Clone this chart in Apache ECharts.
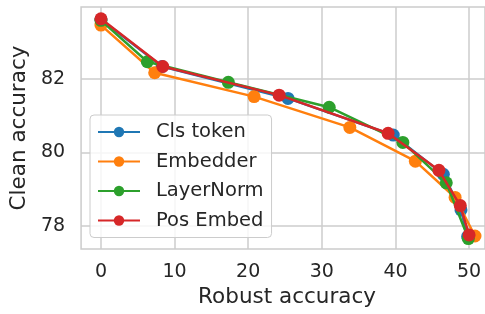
<!DOCTYPE html>
<html>
<head>
<meta charset="utf-8">
<script src="https://cdn.jsdelivr.net/npm/echarts@6/dist/echarts.min.js"></script>
<style>
  html, body { margin: 0; padding: 0; background: #fff; }
  #chart { width: 485px; height: 314px; }
</style>
</head>
<body>
<div id="chart"></div>
<script>
// robust vs clean accuracy for each fine-tuned part
var robustCls = [0, 8.3, 25.4, 39.7, 46.5, 48.9, 49.8];
var cleanCls = [83.62, 82.34, 81.47, 80.47, 79.40, 78.43, 77.70];
var robustEmb = [0, 7.3, 20.8, 33.8, 42.7, 48.1, 50.8];
var cleanEmb = [83.47, 82.17, 81.52, 80.68, 79.76, 78.77, 77.72];
var robustLN = [0, 6.3, 17.3, 31.0, 41.0, 46.9, 49.9];
var cleanLN = [83.60, 82.47, 81.91, 81.23, 80.27, 79.17, 77.65];
var robustPos = [0, 8.4, 24.2, 39.0, 45.9, 48.8, 50.0];
var cleanPos = [83.64, 82.34, 81.56, 80.52, 79.51, 78.55, 77.75];

var xTicks = [0, 10, 20, 30, 40, 50];
var yTicks = [78, 80, 82];

var textColor = '#262626';
var gridColor = '#cccccc';
var font = 'DejaVu Sans';

var chart = echarts.init(document.getElementById('chart'));

function pairs(xs, ys) {
    var out = [];
    for (var i = 0; i < xs.length; i++) {
        out.push([xs[i], ys[i]]);
    }
    return out;
}

function makeSeries(name, color, xs, ys, z) {
    return {
        name: name,
        type: 'line',
        data: pairs(xs, ys),
        symbol: 'circle',
        symbolSize: 13,
        showSymbol: true,
        z: z,
        lineStyle: {color: color, width: 2.5},
        itemStyle: {color: color},
        emphasis: {disabled: true},
        animation: false
    };
}

chart.setOption({
    backgroundColor: '#fff',
    textStyle: {fontFamily: font},
    grid: {
        left: 79, top: 7, right: 0, bottom: 65,
        show: true, borderColor: gridColor, borderWidth: 1.5,
        containLabel: false
    },
    legend: {
        left: 90, top: 115,
        orient: 'vertical',
        itemWidth: 42, itemHeight: 13, itemGap: 9.5,
        padding: [7, 8, 7, 7],
        backgroundColor: 'rgba(255,255,255,0.8)',
        borderColor: gridColor, borderWidth: 1, borderRadius: 4,
        textStyle: {color: textColor, fontSize: 19.5, fontFamily: font,
                    lineHeight: 20, padding: [0, 0, 0, 11]},
        data: ['Cls token', 'Embedder', 'LayerNorm', 'Pos Embed']
    },
    xAxis: {
        type: 'value',
        min: -2.7, max: 52.16,
        name: 'Robust accuracy',
        nameLocation: 'middle',
        nameGap: 36,
        nameTextStyle: {color: textColor, fontSize: 21.5, fontFamily: font, padding: [0, 0, 0, 8]},
        axisLine: {show: false},
        axisTick: {show: false, customValues: xTicks},
        axisLabel: {customValues: xTicks, color: textColor, fontSize: 19, margin: 14, fontFamily: font},
        splitLine: {show: true, lineStyle: {color: gridColor, width: 1.5}}
    },
    yAxis: {
        type: 'value',
        min: 77.365, max: 83.963,
        name: 'Clean accuracy',
        nameLocation: 'middle',
        nameGap: 38,
        nameTextStyle: {color: textColor, fontSize: 21.5, fontFamily: font},
        axisLine: {show: false},
        axisTick: {show: false, customValues: yTicks},
        axisLabel: {customValues: yTicks, color: textColor, fontSize: 19, margin: 16, fontFamily: font},
        splitLine: {show: true, lineStyle: {color: gridColor, width: 1.5}}
    },
    series: [
        makeSeries('Cls token', '#1f77b4', robustCls, cleanCls, 2),
        makeSeries('Embedder', '#ff7f0e', robustEmb, cleanEmb, 3),
        makeSeries('LayerNorm', '#2ca02c', robustLN, cleanLN, 4),
        makeSeries('Pos Embed', '#d62728', robustPos, cleanPos, 5)
    ]
});

window.onresize = function () {
    chart.resize();
};
</script>
</body>
</html>
